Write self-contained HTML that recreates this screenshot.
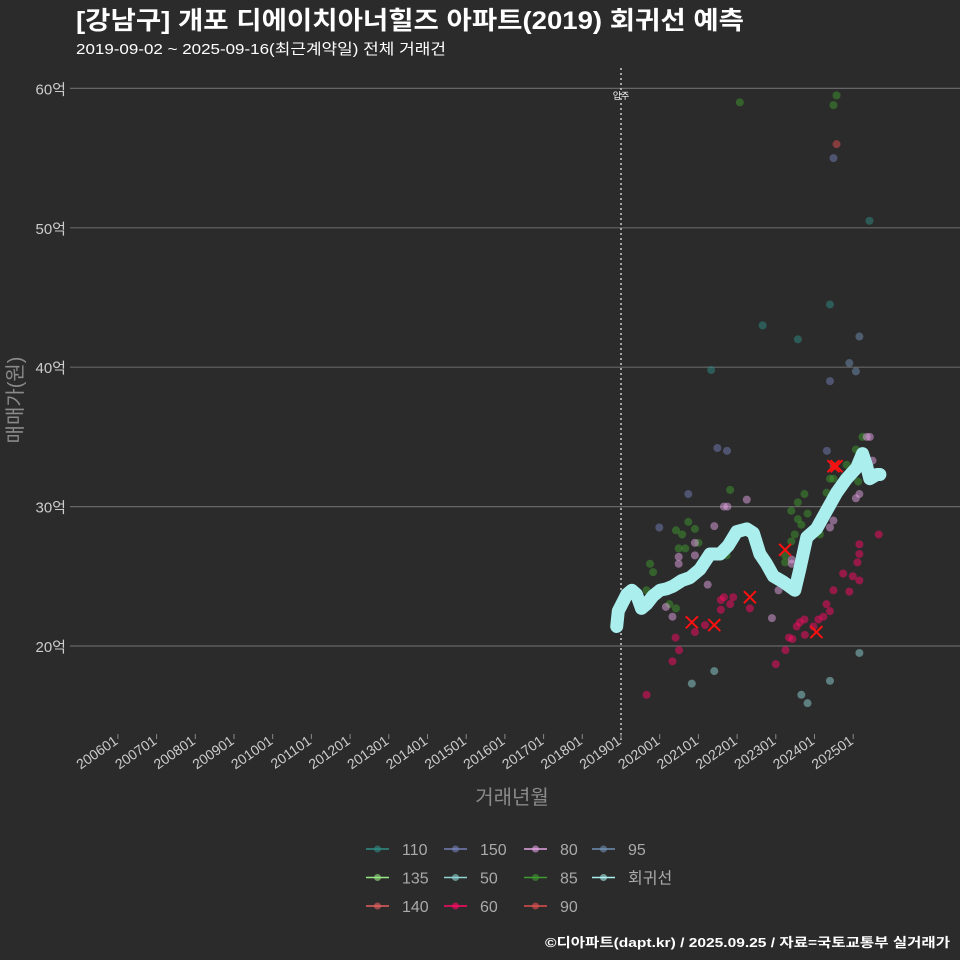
<!DOCTYPE html>
<html><head><meta charset="utf-8">
<style>
html,body{margin:0;padding:0;background:#2b2b2b;}
svg{display:block;font-family:"Liberation Sans","Noto Sans CJK KR",sans-serif;}
</style></head>
<body>
<svg id="chart" width="960" height="960" viewBox="0 0 960 960">
<rect width="960" height="960" fill="#2b2b2b"/>
<text x="76" y="29" fill="#ffffff" font-size="25" font-weight="bold" textLength="668" lengthAdjust="spacingAndGlyphs">[강남구] 개포 디에이치아너힐즈 아파트(2019) 회귀선 예측</text>
<text x="76" y="54" fill="#ffffff" font-size="15" textLength="370" lengthAdjust="spacingAndGlyphs">2019-09-02 ~ 2025-09-16(최근계약일) 전체 거래건</text>
<g id="grid"></g>
<g id="points"></g>
<g id="xaxis"></g>
<text transform="translate(22,400) rotate(-90)" text-anchor="middle" fill="#8a8a8a" font-size="20">매매가(원)</text>
<text x="512" y="804" text-anchor="middle" fill="#8a8a8a" font-size="20">거래년월</text>
<g id="legend"></g>
<text x="950" y="947" text-anchor="end" fill="#ffffff" font-size="13" font-weight="bold" textLength="405" lengthAdjust="spacingAndGlyphs">©디아파트(dapt.kr) / 2025.09.25 / 자료=국토교통부 실거래가</text>
</svg>
<script>
const yTicks=[20,30,40,50,60];
const xTickYears=[2006,2007,2008,2009,2010,2011,2012,2013,2014,2015,2016,2017,2018,2019,2020,2021,2022,2023,2024,2025];
const moveInYear=2019.0;
const seriesNames=["110","150","80","95","135","50","85","회귀선","140","60","90"];
const seriesColors=["#2f8c86","#7480b8","#e4a4e4","#7090b4","#98e884","#90d4d4","#3f9a2e","#aaeeee","#e86060","#ff0a66","#e05050"];
const d110=[[2025.42,50.5],[2024.40,44.5],[2022.66,43.0],[2023.57,42.0],[2021.33,39.8]];
const d150=[[2024.49,55.0],[2024.40,39.0],[2024.32,34.0],[2021.49,34.2],[2021.74,34.0],[2019.99,28.5],[2020.74,30.9]];
const d95=[[2025.16,42.2],[2024.90,40.3],[2025.07,39.7]];
const d50=[[2025.16,19.5],[2024.40,17.5],[2023.66,16.5],[2023.82,15.9],[2021.41,18.2],[2020.83,17.3]];
const d90=[[2024.57,56.0],[2024.49,32.9]];
const d85=[[2022.07,59.0],[2024.57,59.5],[2024.49,58.8],[2021.82,31.2],[2020.74,28.9],[2020.42,28.3],[2020.58,28.0],[2020.91,28.4],[2020.49,27.0],[2020.66,27.0],[2021.0,27.4],[2019.75,25.9],[2019.83,25.3],[2019.66,24.0],[2020.25,23.0],[2020.42,22.7],[2021.73,26.5],[2023.74,30.9],[2023.57,30.3],[2023.40,29.7],[2023.82,29.5],[2023.57,29.1],[2023.66,28.7],[2023.49,28.0],[2023.40,27.5],[2023.24,26.5],[2023.24,26.0],[2024.40,32.0],[2024.49,32.0],[2024.31,31.0],[2024.83,33.0],[2025.07,34.1],[2025.13,31.8],[2025.24,35.0],[2024.14,28.0]];
const d60=[[2019.66,16.5],[2020.33,18.9],[2020.41,20.6],[2020.50,19.7],[2020.91,21.0],[2021.17,21.5],[2021.58,23.3],[2021.66,23.5],[2021.82,23.0],[2021.90,23.5],[2021.58,22.6],[2022.33,22.7],[2023.0,18.7],[2023.25,19.7],[2023.34,20.6],[2023.43,20.5],[2023.54,21.4],[2023.62,21.7],[2023.74,21.9],[2023.75,20.8],[2023.97,21.4],[2024.10,21.9],[2024.23,22.1],[2024.40,22.5],[2024.31,23.0],[2024.49,24.0],[2024.74,25.2],[2024.90,23.9],[2024.99,25.0],[2025.16,24.7],[2025.11,26.0],[2025.16,26.6],[2025.16,27.3],[2025.66,28.0]];
const d80=[[2022.25,30.5],[2021.66,30.0],[2021.75,30.0],[2021.41,28.6],[2020.91,27.4],[2020.91,26.5],[2020.49,26.4],[2020.49,25.9],[2020.16,22.8],[2020.33,22.1],[2021.24,24.4],[2022.90,22.0],[2023.07,24.0],[2023.41,26.2],[2023.41,25.9],[2024.40,28.5],[2024.49,29.0],[2025.07,30.6],[2025.16,30.9],[2025.50,33.3],[2025.35,35.0],[2025.43,35.0]];
const highlightX=[[2020.83,21.7],[2021.41,21.5],[2022.33,23.5],[2023.24,26.9],[2024.49,32.9],[2024.57,32.9],[2024.05,21.0]];
const regLine=[[2018.89,21.4],[2018.93,22.5],[2019.15,23.7],[2019.28,24.0],[2019.40,23.7],[2019.53,22.7],[2019.66,23.0],[2019.83,23.6],[2020.01,24.0],[2020.18,24.1],[2020.35,24.3],[2020.57,24.7],[2020.78,24.9],[2021.04,25.5],[2021.30,26.6],[2021.56,26.6],[2021.77,27.2],[2021.99,28.2],[2022.25,28.4],[2022.42,28.1],[2022.59,26.6],[2022.76,25.9],[2022.94,25.0],[2023.19,24.6],[2023.49,24.0],[2023.62,25.5],[2023.80,27.8],[2024.05,28.4],[2024.31,29.7],[2024.57,31.0],[2024.83,32.0],[2025.09,32.8],[2025.24,33.8],[2025.35,32.9],[2025.43,32.0],[2025.61,32.3],[2025.69,32.3]];

const NS="http://www.w3.org/2000/svg";
function xS(yr){return 621+(yr-2019)*38.7;}
function yS(v){return 646-(v-20)*13.94;}
function mk(tag,attrs,parent){const e=document.createElementNS(NS,tag);for(const k in attrs)e.setAttribute(k,attrs[k]);parent.appendChild(e);return e;}

const grid=document.getElementById('grid');
yTicks.forEach(t=>{
  const l=mk('line',{x1:70,x2:960,y1:yS(t),y2:yS(t),stroke:'#666','stroke-width':1.2},grid);
  
  
  const tx=mk('text',{x:66,y:yS(t)+6,'text-anchor':'end',fill:'#cccccc','font-size':15},grid);
  tx.textContent=t+'억';
  
  
});
const ml=mk('line',{x1:xS(moveInYear),x2:xS(moveInYear),y1:68,y2:740,stroke:'#cccccc','stroke-width':1.5,'stroke-dasharray':'2,3'},grid);


const mt=mk('text',{x:xS(moveInYear),y:99,'text-anchor':'middle',fill:'#ffffff','font-size':9},grid);
mt.textContent='입주';



const xa=document.getElementById('xaxis');
xTickYears.forEach(y=>{
  const x=xS(y);
  const tk=mk('line',{x1:x,x2:x,y1:734,y2:739,stroke:'#888'},xa);
  
  
  const t=mk('text',{transform:`translate(${x+1},${743}) rotate(-35)`,'text-anchor':'end',fill:'#cccccc','font-size':14},xa);
  t.textContent=y+'01';
  
  
});

const pts=document.getElementById('points');
const groups=[["110",d110],["150",d150],["95",d95],["50",d50],["90",d90],["85",d85],["60",d60],["80",d80]];
groups.forEach(([name,arr])=>{
  const col=seriesColors[seriesNames.indexOf(name)];
  arr.forEach(p=>{
    const c=mk('circle',{cx:xS(p[0]),cy:yS(p[1]),r:4,fill:col,'fill-opacity':0.5},pts);
    
    
  });
});
const path=mk('path',{d:regLine.map((p,i)=>(i?'L':'M')+xS(p[0]).toFixed(1)+','+yS(p[1]).toFixed(1)).join(' '),fill:'none',stroke:'#aaeeee','stroke-width':13,'stroke-linejoin':'round','stroke-linecap':'round'},pts);


highlightX.forEach(p=>{
  const x=xS(p[0]),y=yS(p[1]);
  const g=mk('path',{d:`M${x-6},${y-6}L${x+6},${y+6}M${x-6},${y+6}L${x+6},${y-6}`,stroke:'#ff1010','stroke-width':2},pts);
  
  
});

const lg=document.getElementById('legend');
const legendOrder=[["110",0,0],["135",0,1],["140",0,2],["150",1,0],["50",1,1],["60",1,2],["80",2,0],["85",2,1],["90",2,2],["95",3,0],["회귀선",3,1]];
const colX=[366,444,524,592];
legendOrder.forEach(([name,c,r])=>{
  const col=seriesColors[seriesNames.indexOf(name)];
  const x=colX[c],y=849+r*28.5;
  const g=mk('g',{},lg);
  
  
  mk('line',{x1:x,x2:x+23,y1:y,y2:y,stroke:col,'stroke-width':1.5},g);
  mk('circle',{cx:x+11.5,cy:y,r:3.5,fill:col,'fill-opacity':0.6},g);
  const t=mk('text',{x:x+36,y:y+6,fill:'#aaaaaa','font-size':16},g);
  t.textContent=name;
});
</script>
</body></html>
